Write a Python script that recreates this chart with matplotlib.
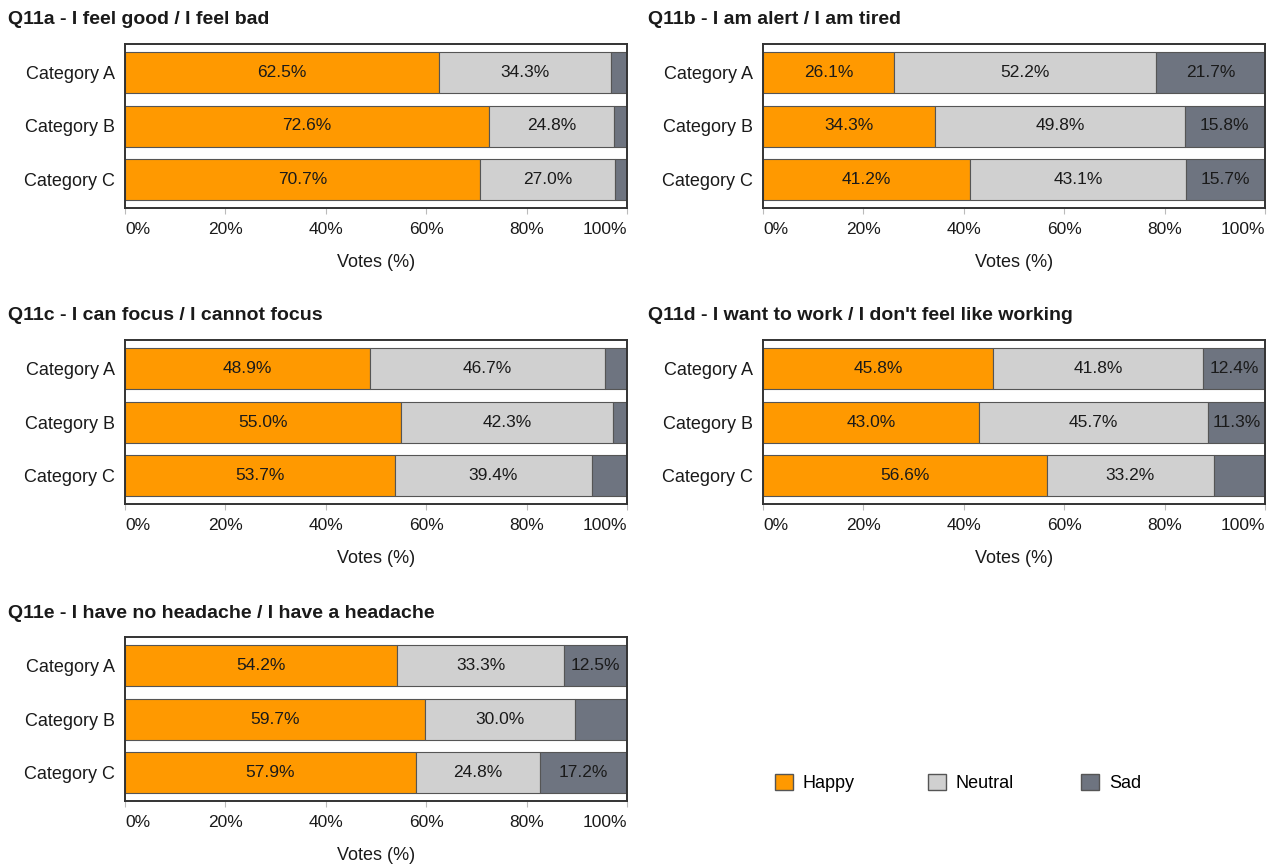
import numpy as np
import matplotlib.pyplot as plt
from matplotlib.patches import Patch

plt.rcParams['font.family'] = ['Liberation Sans', 'DejaVu Sans']

# datos
categorias = ["Category A", "Category B", "Category C"]
titulos = [
    "Q11a - I feel good / I feel bad",
    "Q11b - I am alert / I am tired",
    "Q11c - I can focus / I cannot focus",
    "Q11d - I want to work / I don't feel like working",
    "Q11e - I have no headache / I have a headache",
]
happy = [
    [62.5, 72.6, 70.7],
    [26.1, 34.3, 41.2],
    [48.9, 55.0, 53.7],
    [45.8, 43.0, 56.6],
    [54.2, 59.7, 57.9],
]
neutral = [
    [34.3, 24.8, 27.0],
    [52.2, 49.8, 43.1],
    [46.7, 42.3, 39.4],
    [41.8, 45.7, 33.2],
    [33.3, 30.0, 24.8],
]
sad = [
    [3.2, 2.6, 2.3],
    [21.7, 15.8, 15.7],
    [4.4, 2.7, 6.9],
    [12.4, 11.3, 10.2],
    [12.5, 10.3, 17.2],
]
series_nombres = ["Happy", "Neutral", "Sad"]
colores = ["#FF9900", "#D0D0D0", "#6E7480"]
xticks = [0, 20, 40, 60, 80, 100]
xtick_labels = ["0%", "20%", "40%", "60%", "80%", "100%"]

W, H = 1270, 866
fig = plt.figure(figsize=(W / 100, H / 100), dpi=100)

# posiciones en pixeles (izq, arriba)
posiciones = [(125, 44), (763, 44), (125, 340), (763, 340), (125, 637)]
ancho_px, alto_px = 502, 164
titulo_x = [8, 648, 8, 648, 8]


def graficar(ax, h, n, s):
    y = np.arange(len(categorias))
    izq = np.zeros(len(categorias))
    for vals, col in zip([h, n, s], colores):
        vals = np.array(vals)
        ax.barh(y, vals, left=izq, height=0.76, color=col,
                edgecolor="#555555", linewidth=0.8)
        for yi, l, v in zip(y, izq, vals):
            if v > 11:
                ax.text(l + v / 2, yi, f"{v:.1f}%", ha="center",
                        va="center", fontsize=12.5, color="#1a1a1a")
        izq = izq + vals
    ax.set_xlim(0, 100)
    ax.set_ylim(2.52, -0.52)
    ax.set_yticks(y)
    ax.set_yticklabels(categorias, fontsize=13, color="#1a1a1a")
    ax.set_xticks(xticks)
    ax.set_xticklabels(xtick_labels, fontsize=12.5, color="#1a1a1a")
    labs = ax.get_xticklabels()
    labs[0].set_ha("left")
    labs[-1].set_ha("right")
    ax.tick_params(axis="y", length=0, pad=7)
    ax.tick_params(axis="x", length=4, width=0.8, color="#bbbbbb", pad=6)
    ax.set_xlabel("Votes (%)", fontsize=13, color="#1a1a1a", labelpad=12)
    for sp in ax.spines.values():
        sp.set_color("#333333")
        sp.set_linewidth(1.4)


for i in range(5):
    px, py = posiciones[i]
    ax = fig.add_axes([px / W, 1 - (py + alto_px) / H, ancho_px / W, alto_px / H])
    graficar(ax, happy[i], neutral[i], sad[i])
    fig.text(titulo_x[i] / W, 1 - (py - 26) / H, titulos[i], ha="left",
             va="center_baseline", fontsize=14, fontweight="bold",
             color="#1a1a1a")

# leyenda: una entrada por columna, separadas 153 px
for i, (c, n) in enumerate(zip(colores, series_nombres)):
    h = Patch(facecolor=c, edgecolor="#555555", label=n)
    fig.legend(handles=[h], loc="center left",
               bbox_to_anchor=((775 + 153 * i) / W, 1 - 783 / H),
               frameon=False, fontsize=13, handlelength=1.0,
               handleheight=1.0, handletextpad=0.55, borderpad=0,
               borderaxespad=0)

plt.savefig("out.png", dpi=100)
